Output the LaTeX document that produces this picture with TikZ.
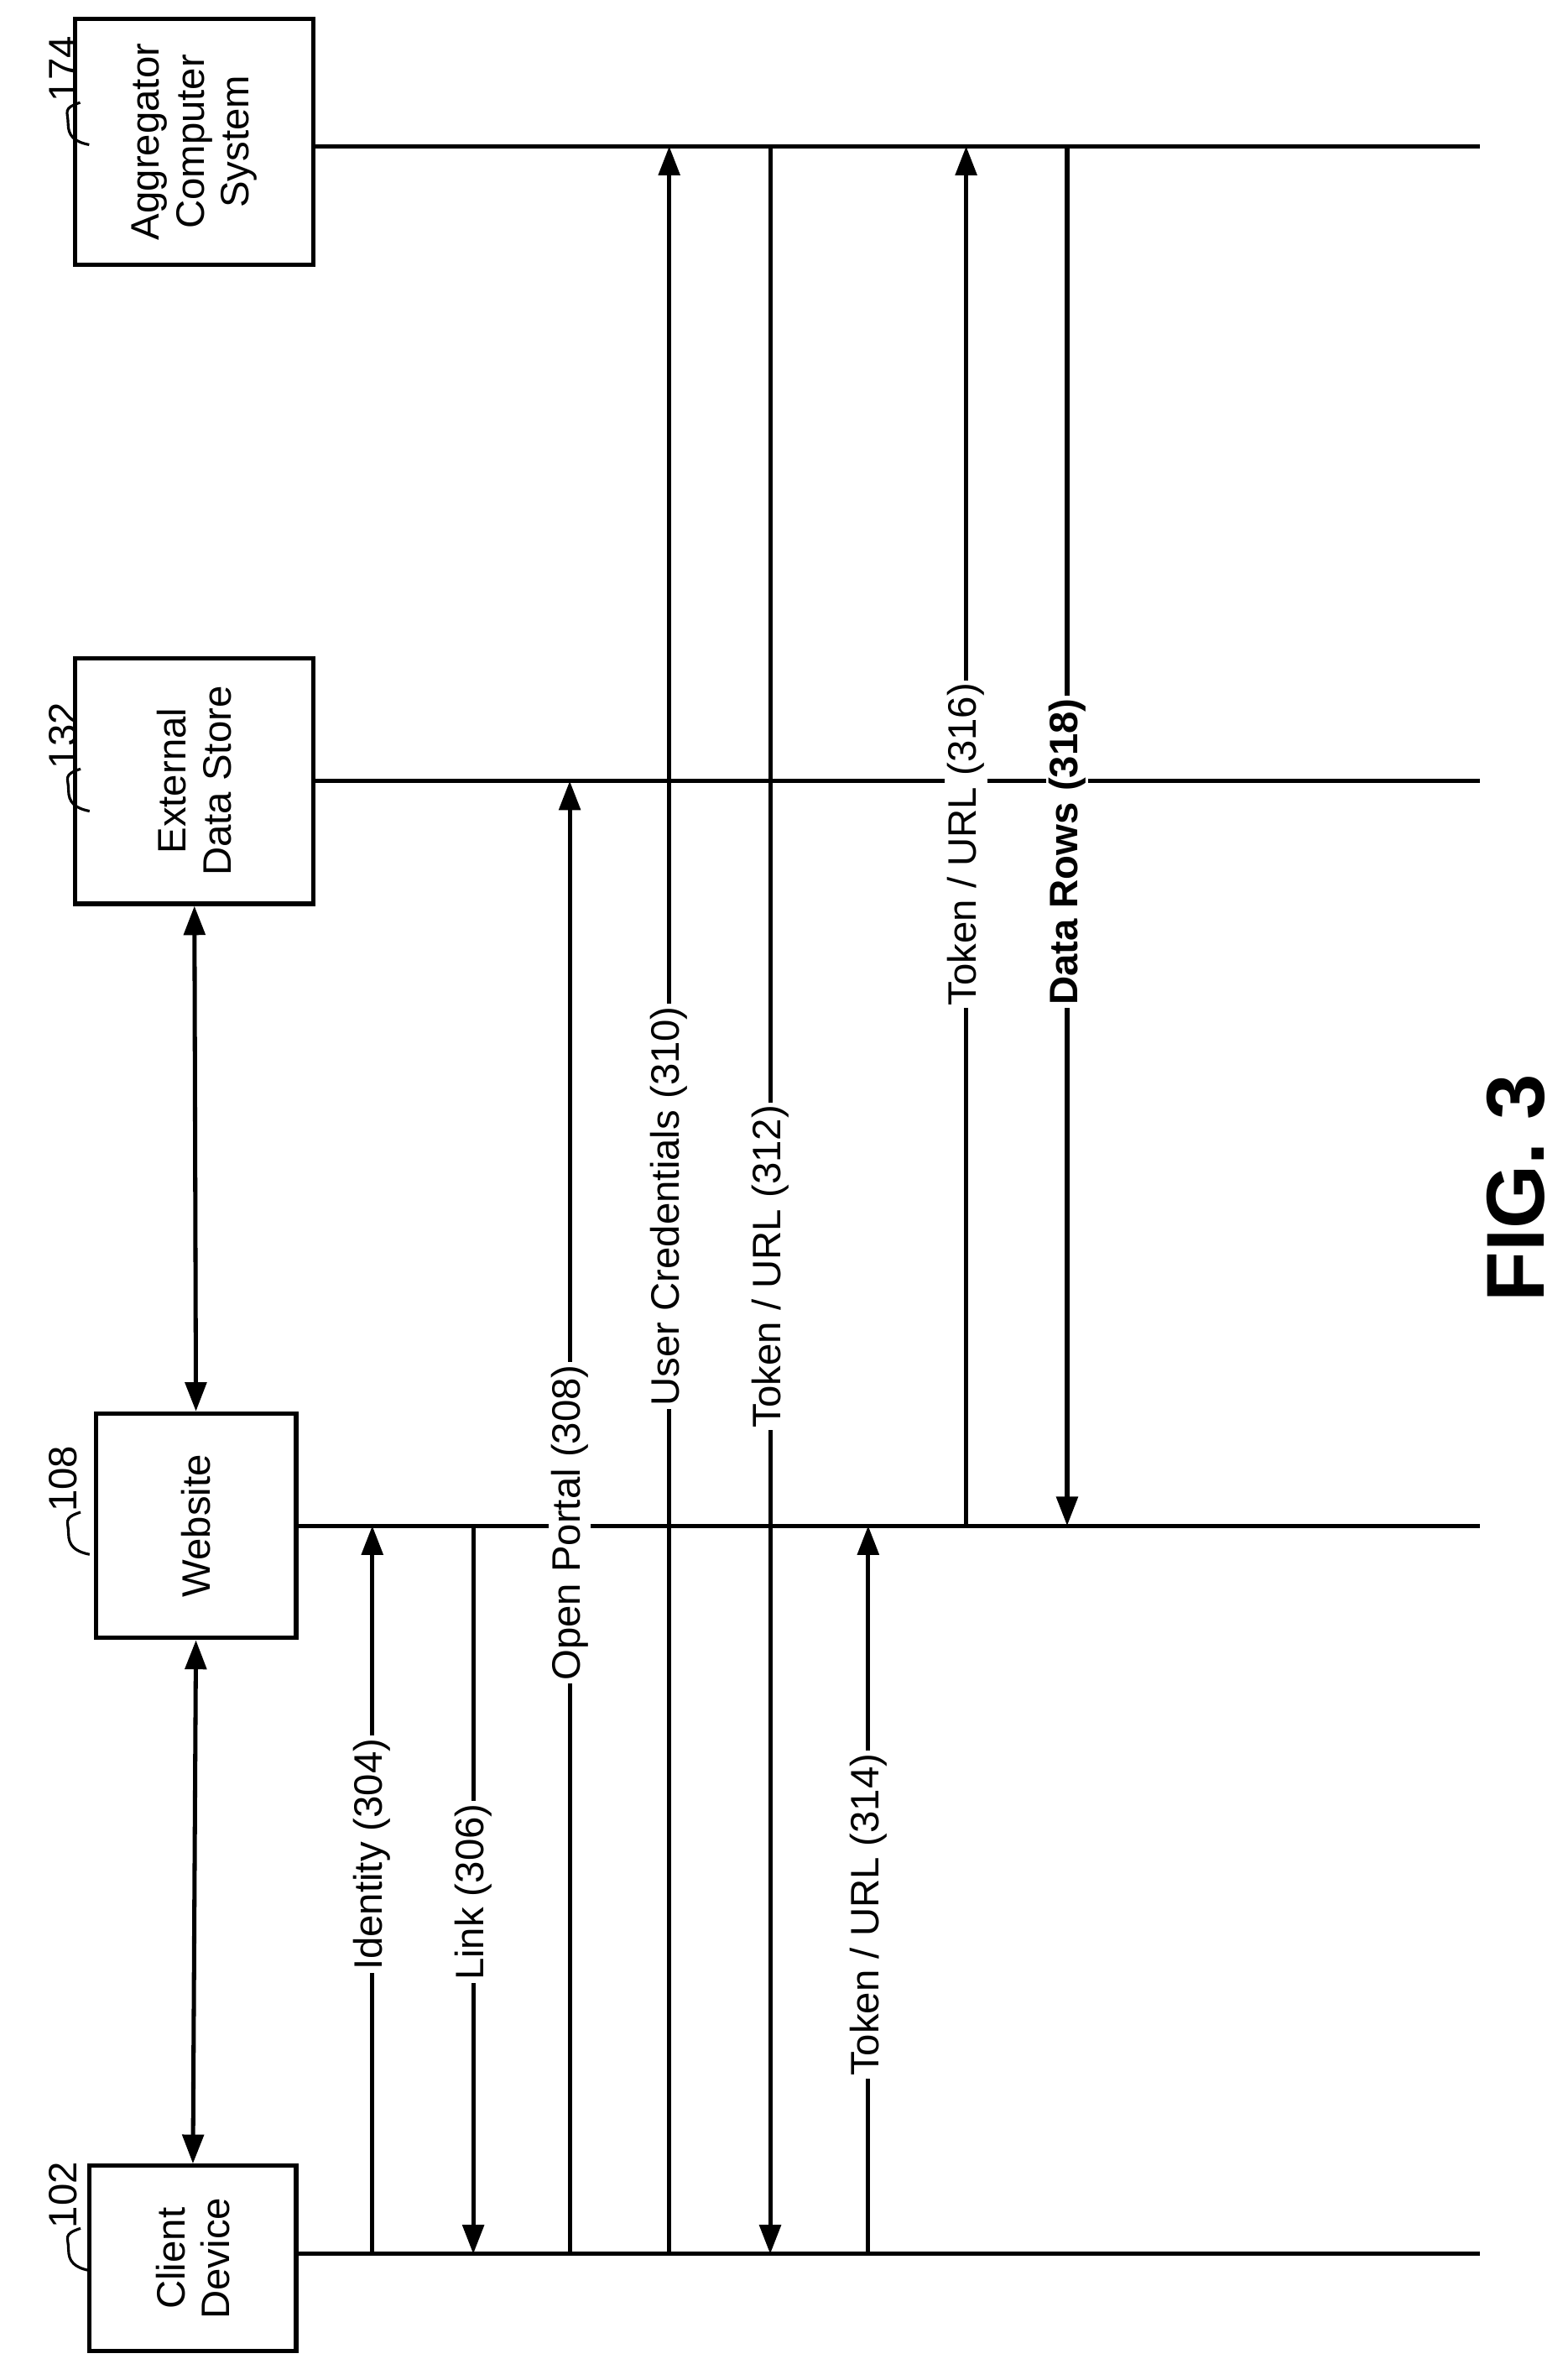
\documentclass[tikz,border=0pt]{standalone}
\usepackage{fontspec}
\setmainfont{Liberation Sans}
\usetikzlibrary{arrows.meta}
\tikzset{
  box/.style={draw,line width=1.6pt,align=center,font=\fontsize{15}{17}\selectfont},
  life/.style={line width=1.6pt},
  msg/.style={line width=1.6pt,-{Triangle[length=11pt,width=8pt]}},
  both/.style={line width=1.6pt,{Triangle[length=11pt,width=8pt]}-{Triangle[length=11pt,width=8pt]}},
  lbl/.style={fill=white,inner sep=1pt,rotate=90,font=\fontsize{15}{17}\selectfont},
  ref/.style={font=\fontsize{15}{17}\selectfont,rotate=90,anchor=west,inner sep=1pt}
}
\begin{document}
\begin{tikzpicture}[x=0.02cm,y=-0.02cm]
\useasboundingbox (0,0) rectangle (1040,1568);
% participants
\node[box,minimum width=3.16cm,minimum height=3.26cm] (agg) at (129,94) {};
\node[rotate=90,align=center,font=\fontsize{15}{17}\selectfont] at (agg) {Aggregator\\Computer\\System};
\node[box,minimum width=3.16cm,minimum height=3.26cm] (ext) at (129,518) {};
\node[rotate=90,align=center,font=\fontsize{15}{17}\selectfont] at (ext) {External\\Data Store};
\node[box,minimum width=2.66cm,minimum height=2.98cm] (web) at (130,1012) {};
\node[rotate=90,align=center,font=\fontsize{15}{17}\selectfont] at (web) {Website};
\node[box,minimum width=2.74cm,minimum height=2.46cm] (cli) at (128,1498) {};
\node[rotate=90,align=center,font=\fontsize{15}{17}\selectfont] at (cli) {Client\\Device};
% reference numerals
\node[ref] (n174) at (42,70) {174};
\node[ref] (n132) at (42,512) {132};
\node[ref] (n108) at (42,1005) {108};
\node[ref] (n102) at (42,1480) {102};
\foreach \n in {n174,n132,n108,n102} {
  \draw[line width=1pt] (\n.south west) ++(0,-2) .. controls +(-12,4) and +(0,-8) .. ++(-8,14)
    .. controls +(0,8) and +(-10,-2) .. ++(14,14);
}
% lifelines
\coordinate (agR) at (982,97);
\coordinate (exR) at (982,518);
\coordinate (weR) at (982,1012);
\coordinate (clR) at (982,1495);
\draw[life] (agg.east |- agR) -- (agR);
\draw[life] (ext.east |- exR) -- (exR);
\draw[life] (web.east |- weR) -- (weR);
\draw[life] (cli.east |- clR) -- (clR);
\draw[both] (cli.north) -- (web.south);
\draw[both] (web.north) -- (ext.south);
% messages
\foreach \x/\from/\to/\y/\txt in {
  247/clR/weR/1230/{Identity (304)},
  314/weR/clR/1255/{Link (306)},
  378/clR/exR/1010/{Open Portal (308)},
  444/clR/agR/800/{User Credentials (310)},
  511/agR/clR/840/{Token / URL (312)},
  576/clR/weR/1270/{Token / URL (314)},
  641/weR/agR/560/{Token / URL (316)}} {
  \coordinate (m\x) at (\x,0);
  \draw[msg] (m\x |- \from) -- (m\x |- \to);
  \node[lbl] at (\x,\y) {\txt};
}
\coordinate (m708) at (708,0);
\draw[msg] (m708 |- agR) -- (m708 |- weR);
\node[lbl,font=\fontsize{15}{17}\selectfont\bfseries] at (708,565) {Data Rows (318)};
\node[rotate=90,font=\fontsize{31}{35}\selectfont\bfseries] (fig) at (1006,788) {FIG. 3};
\end{tikzpicture}
\end{document}
